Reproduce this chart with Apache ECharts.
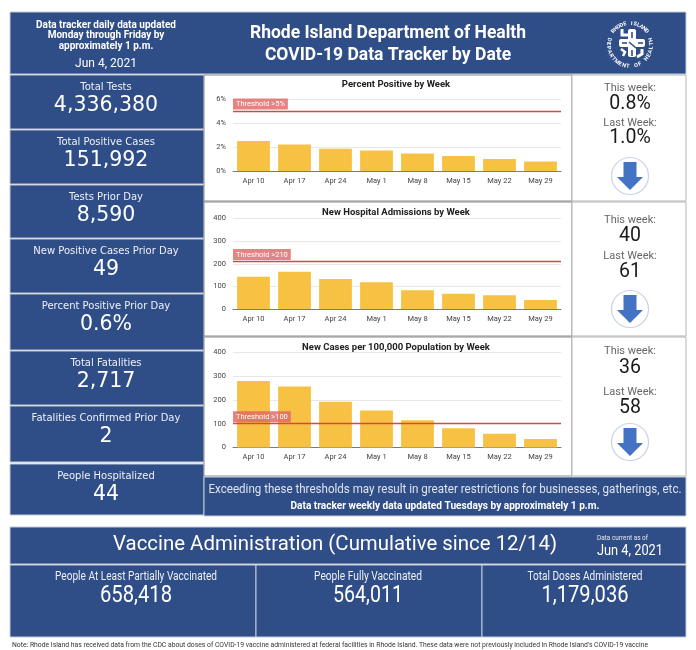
<!DOCTYPE html>
<html><head><meta charset="utf-8">
<script src="https://cdn.jsdelivr.net/npm/echarts@6/dist/echarts.min.js"></script>
<style>html,body{margin:0;padding:0;background:#fff}#main{width:696px;height:650px}</style>
</head><body><div id="main"></div>
<script>
// ---------- data ----------
const weeks = ['Apr 10','Apr 17','Apr 24','May 1','May 8','May 15','May 22','May 29'];
const percentPositive = [2.5, 2.2, 1.85, 1.7, 1.45, 1.25, 1.0, 0.8];
const hospitalAdmissions = [143, 165, 133, 118, 83, 67, 61, 40];
const casesPer100k = [279, 255, 192, 155, 114, 81, 58, 36];
const chartTitles = ['Percent Positive by Week','New Hospital Admissions by Week','New Cases per 100,000 Population by Week'];
const thresholds = [5, 210, 100];
const thresholdLabels = ['Threshold >5%','Threshold >210','Threshold >100'];
const yMax = [6, 400, 400];
const yStep = [2, 100, 100];
const yFormat = ['{value}%', '{value}', '{value}'];
const thisWeek = ['0.8%', '40', '36'];
const lastWeek = ['1.0%', '61', '58'];
const summaryLabels = ['Total Tests','Total Positive Cases','Tests Prior Day','New Positive Cases Prior Day','Percent Positive Prior Day','Total Fatalities','Fatalities Confirmed Prior Day','People Hospitalized'];
const summaryValues = ['4,336,380','151,992','8,590','49','0.6%','2,717','2','44'];
const vaccineLabels = ['People At Least Partially Vaccinated','People Fully Vaccinated','Total Doses Administered'];
const vaccineValues = ['658,418','564,011','1,179,036'];
const reportDate = 'Jun 4, 2021';

// ---------- helpers ----------
const BLUE = '#2f4d87';
const mctx = document.createElement('canvas').getContext('2d');
function T(text, x, y, font, fill, align, extra) {
  return Object.assign({type:'text', x:x, y:y, z:50, silent:true,
    style:{text:text, x:0, y:0, font:font, fill:fill, align:align||'center', verticalAlign:'middle',
           textAlign:align||'center', textVerticalAlign:'middle'}}, extra||{});
}
function FT(text, x, y, font, fill, width, align) {
  mctx.font = font; const w = mctx.measureText(text).width;
  return T(text, x, y, font, fill, align, {scaleX: width / w, scaleY: 1});
}
function R(x, y, w, h, fill, stroke, z) {
  return {type:'rect', silent:true, z:z||0, shape:{x:x, y:y, width:w, height:h},
          style:{fill:fill, stroke:stroke||null, lineWidth:1}};
}

const g = [];
// header
g.push(R(10, 12, 676, 62, BLUE, '#c4cbd9'));
g.push(T('Data tracker daily data updated', 106, 25, 'bold 10px Roboto', '#fff'));
g.push(T('Monday through Friday by', 106, 35.5, 'bold 10px Roboto', '#fff'));
g.push(T('approximately 1 p.m.', 106, 46, 'bold 10px Roboto', '#fff'));
g.push(T(reportDate, 106, 64, '12px Roboto', '#fff'));
g.push(T('Rhode Island Department of Health', 388, 34, 'bold 17.5px Roboto', '#fff'));
g.push(T('COVID-19 Data Tracker by Date', 388, 56, 'bold 17.5px Roboto', '#fff'));

// logo
(function(){
  const cx = 630, cy = 45, r = 21.5;
  function arc(text, a0, a1, outward) {
    const n = text.length;
    for (let i = 0; i < n; i++) {
      const a = (a0 + (a1 - a0) * (i + 0.5) / n) * Math.PI / 180;
      const x = cx + r * Math.cos(a), y = cy + r * Math.sin(a);
      const rot = outward ? -(a + Math.PI / 2) : -(a - Math.PI / 2);
      g.push(T(text[i], x, y, 'bold 5.5px Roboto', '#fff', 'center', {rotation: rot}));
    }
  }
  arc('RHODE ISLAND', -145, -35, true);
  arc('DEPARTMENT OF HEALTH', 200, -20, false);
  const sx = 632, sy = 43;
  g.push({type:'rect', silent:true, z:40, shape:{x:sx-4, y:sy-14, width:8, height:28, r:2}, style:{fill:'#fff'}});
  g.push({type:'rect', silent:true, z:40, shape:{x:sx-13, y:sy-4, width:26, height:8, r:2}, style:{fill:'#fff'}});
  g.push({type:'polyline', silent:true, z:41, shape:{points:[[sx-10,sy-14],[sx-10,sy-8],[sx-3,sy-8]]}, style:{stroke:'#fff', lineWidth:3, fill:null}});
  g.push({type:'polyline', silent:true, z:41, shape:{points:[[sx+10,sy+6],[sx+10,sy+11],[sx+5,sy+14]]}, style:{stroke:'#fff', lineWidth:3, fill:null}});
  g.push({type:'polyline', silent:true, z:41, shape:{points:[[sx-11,sy+6],[sx-7,sy+9],[sx-9,sy+13]]}, style:{stroke:'#fff', lineWidth:2.5, fill:null}});
  g.push({type:'line', silent:true, z:42, shape:{x1:sx-3, y1:sy-1, x2:sx+4, y2:sy+5}, style:{stroke:BLUE, lineWidth:1.6}});
  g.push({type:'line', silent:true, z:42, shape:{x1:sx, y1:sy-11, x2:sx, y2:sy-5}, style:{stroke:BLUE, lineWidth:1.6}});
  g.push({type:'line', silent:true, z:42, shape:{x1:sx-10, y1:sy, x2:sx-5, y2:sy}, style:{stroke:BLUE, lineWidth:1.6}});
  g.push({type:'line', silent:true, z:42, shape:{x1:sx, y1:sy+7, x2:sx, y2:sy+13}, style:{stroke:BLUE, lineWidth:1.6}});
  g.push({type:'line', silent:true, z:42, shape:{x1:sx+6, y1:sy, x2:sx+11, y2:sy}, style:{stroke:BLUE, lineWidth:1.6}});
})();

// left summary boxes
const boxTops = [75, 130, 185, 239, 294, 351, 406, 464];
const boxBottoms = [129, 184, 238, 293, 350, 405, 462, 515];
for (let i = 0; i < summaryLabels.length; i++) {
  const y0 = boxTops[i], h = boxBottoms[i] - y0;
  g.push(R(10, y0, 194, h, BLUE, '#c4cbd9'));
  g.push(T(summaryLabels[i], 106, y0 + 12, '10px "DejaVu Sans"', '#eef1f7'));
  g.push(T(summaryValues[i], 106, y0 + 31, '20.5px "DejaVu Sans"', '#fff'));
}

// chart panels and right stat panels
const panelTops = [75, 202, 337];
const panelBottoms = [201, 336, 476];
const arrowCY = [176, 309, 442];
const statY = [[88, 104, 123, 138], [220, 236, 256, 272], [351, 368, 392, 408]];
for (let i = 0; i < 3; i++) {
  const y0 = panelTops[i], h = panelBottoms[i] - y0;
  g.push(R(204, y0, 368, h, '#fff', '#8a8a8a'));
  g.push(R(572, y0, 114, h, '#fff', '#b5b5b5'));
  g.push(T(chartTitles[i], 396, y0 + (i === 0 ? 9.5 : 11), 'bold 9.5px Roboto', '#222'));
  const s = statY[i];
  g.push(T('This week:', 630, s[0], '11px Roboto', '#666'));
  g.push(T(thisWeek[i], 630, s[1], '19.5px Roboto', '#1a1a1a'));
  g.push(T('Last Week:', 630, s[2], '11px Roboto', '#666'));
  g.push(T(lastWeek[i], 630, s[3], '19.5px Roboto', '#1a1a1a'));
  const cy = arrowCY[i], cx = 630;
  g.push({type:'circle', silent:true, z:10, shape:{cx:cx, cy:cy, r:18.5}, style:{fill:'#fff', stroke:'#c9d0ea', lineWidth:1.2}});
  g.push({type:'polygon', silent:true, z:11, shape:{points:[
    [cx-6.5, cy-14],[cx+6.5, cy-14],[cx+6.5, cy+1],[cx+13, cy+1],[cx, cy+14],[cx-13, cy+1],[cx-6.5, cy+1]
  ]}, style:{fill:'#4472c4'}});
}

// bottom text box
g.push(R(204, 477, 482, 39, BLUE, '#c4cbd9'));
g.push(FT('Exceeding these thresholds may result in greater restrictions for businesses, gatherings, etc.', 445, 490, '12px Roboto', '#dfe4ee', 473));
g.push(FT('Data tracker weekly data updated Tuesdays by approximately 1 p.m.', 445, 506, 'bold 10.5px Roboto', '#fff', 309));

// vaccine section
g.push(R(10, 527, 676, 37, BLUE, '#c4cbd9'));
g.push(FT('Vaccine Administration (Cumulative since 12/14)', 335, 545, '21px Roboto', '#fff', 444));
g.push(FT('Data current as of', 597, 538.5, '7px Roboto', '#e6e9f0', 51, 'left'));
g.push(FT(reportDate, 597, 551, '14px Roboto', '#fff', 66, 'left'));
const vx = [10, 256, 482], vw = [246, 226, 204];
const vLabelW = [162, 108, 115], vValW = [72, 70, 87];
for (let i = 0; i < 3; i++) {
  g.push(R(vx[i], 565, vw[i], 72, BLUE, '#c4cbd9'));
  const c = vx[i] + vw[i] / 2 + (i === 0 ? 3 : i === 1 ? -1 : 1);
  g.push(FT(vaccineLabels[i], c, 577, '12px Roboto', '#eef1f7', vLabelW[i]));
  g.push(FT(vaccineValues[i], c, 596, '24px Roboto', '#fff', vValW[i]));
}
g.push(FT("Note: Rhode Island has received data from the CDC about doses of COVID-19 vaccine administered at federal facilities in Rhode Island. These data were not previously included in Rhode Island's COVID-19 vaccine", 12, 645, '7px Roboto', '#333', 636, 'left'));

// ---------- charts ----------
const seriesData = [percentPositive, hospitalAdmissions, casesPer100k];
const grids = [
  {left:233, top:99, width:328, height:72},
  {left:233, top:218.5, width:328, height:90.5},
  {left:233, top:352, width:328, height:95.5}
];
const xAxes = [], yAxes = [], series = [];
for (let i = 0; i < 3; i++) {
  xAxes.push({type:'category', gridIndex:i, data:weeks,
    axisTick:{show:false}, axisLine:{lineStyle:{color:'#7a7a7a', width:1}},
    axisLabel:{interval:0, fontSize:7.5, color:'#444', margin:6, fontFamily:'Roboto'}});
  yAxes.push({type:'value', gridIndex:i, min:0, max:yMax[i], interval:yStep[i],
    axisLine:{show:false}, axisTick:{show:false},
    splitLine:{lineStyle:{color:'#e8e8e8', width:1}},
    axisLabel:{formatter:yFormat[i], fontSize:7.5, color:'#444', margin:7, fontFamily:'Roboto'}});
  series.push({type:'bar', xAxisIndex:i, yAxisIndex:i, data:seriesData[i],
    barCategoryGap:'20%', itemStyle:{color:'#f7c243'}, silent:true,
    markLine:{silent:true, symbol:['none','none'], animation:false,
      lineStyle:{color:'#d9464a', width:1.3, type:'solid'},
      label:{show:true, position:'insideStartTop', formatter:thresholdLabels[i], distance:[0, 1.5],
        color:'#fff', backgroundColor:'rgba(222,100,100,0.8)', padding:[2,3,1,3], fontSize:7.5, fontFamily:'Roboto'},
      data:[{yAxis:thresholds[i]}]}});
}

const chart = echarts.init(document.getElementById('main'), null, {renderer:'canvas'});
chart.setOption({
  animation:false,
  backgroundColor:'#fff',
  grid:grids, xAxis:xAxes, yAxis:yAxes, series:series,
  graphic:{elements:g}
});
</script></body></html>
